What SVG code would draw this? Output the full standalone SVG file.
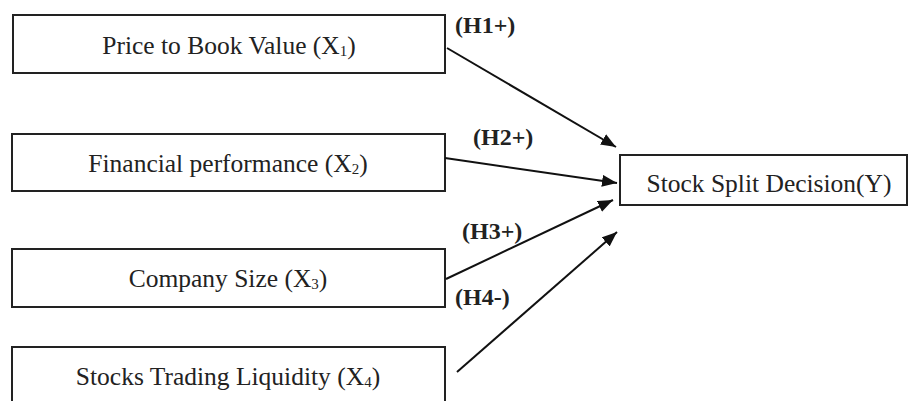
<svg xmlns="http://www.w3.org/2000/svg" width="909" height="401" viewBox="0 0 909 401">
<style>
.box{fill:#fff;stroke:#222;stroke-width:2}
.lbl{font-family:'Liberation Serif','DejaVu Serif',serif;font-size:25.5px;fill:#222;text-anchor:middle}
.h{font-family:'Liberation Serif','DejaVu Serif',serif;font-size:24px;font-weight:bold;fill:#222}
.edge{stroke:#111;stroke-width:2;fill:none}
.sub{font-size:15px}
</style>
<defs>
<marker id="ah" markerUnits="userSpaceOnUse" markerWidth="16" markerHeight="12" refX="15" refY="6" orient="auto">
<path d="M0,0 L15,6 L0,12 Z" fill="#111"/>
</marker>
</defs>
<rect width="909" height="401" fill="#fff"/>
<g id="x1"><rect class="box" x="13" y="15" width="432" height="58"/><text class="lbl" x="229" y="54">Price to Book Value (X<tspan class="sub" dy="2">1</tspan><tspan dy="-2">)</tspan></text></g>
<g id="x2"><rect class="box" x="12" y="134" width="433" height="57"/><text class="lbl" x="228" y="172">Financial performance (X<tspan class="sub" dy="2">2</tspan><tspan dy="-2">)</tspan></text></g>
<g id="x3"><rect class="box" x="12" y="249" width="433" height="58"/><text class="lbl" x="228" y="287">Company Size (X<tspan class="sub" dy="2">3</tspan><tspan dy="-2">)</tspan></text></g>
<g id="x4"><rect class="box" x="12" y="347" width="433" height="70"/><text class="lbl" x="228" y="385">Stocks Trading Liquidity (X<tspan class="sub" dy="2">4</tspan><tspan dy="-2">)</tspan></text></g>
<g id="y"><rect class="box" x="620" y="155" width="287" height="50"/><text class="lbl" x="769" y="192" font-size="25">Stock Split Decision(Y)</text></g>
<g id="connectors">
<line class="edge" x1="447" y1="48" x2="616" y2="147" marker-end="url(#ah)"/>
<line class="edge" x1="445" y1="158" x2="617" y2="183" marker-end="url(#ah)"/>
<line class="edge" x1="446" y1="279" x2="613" y2="200" marker-end="url(#ah)"/>
<line class="edge" x1="457" y1="372" x2="617" y2="232" marker-end="url(#ah)"/>
<text class="h" x="455" y="33">(H1+)</text>
<text class="h" x="473" y="145">(H2+)</text>
<text class="h" x="462" y="239">(H3+)</text>
<text class="h" x="455" y="305">(H4-)</text>
</g>
</svg>
